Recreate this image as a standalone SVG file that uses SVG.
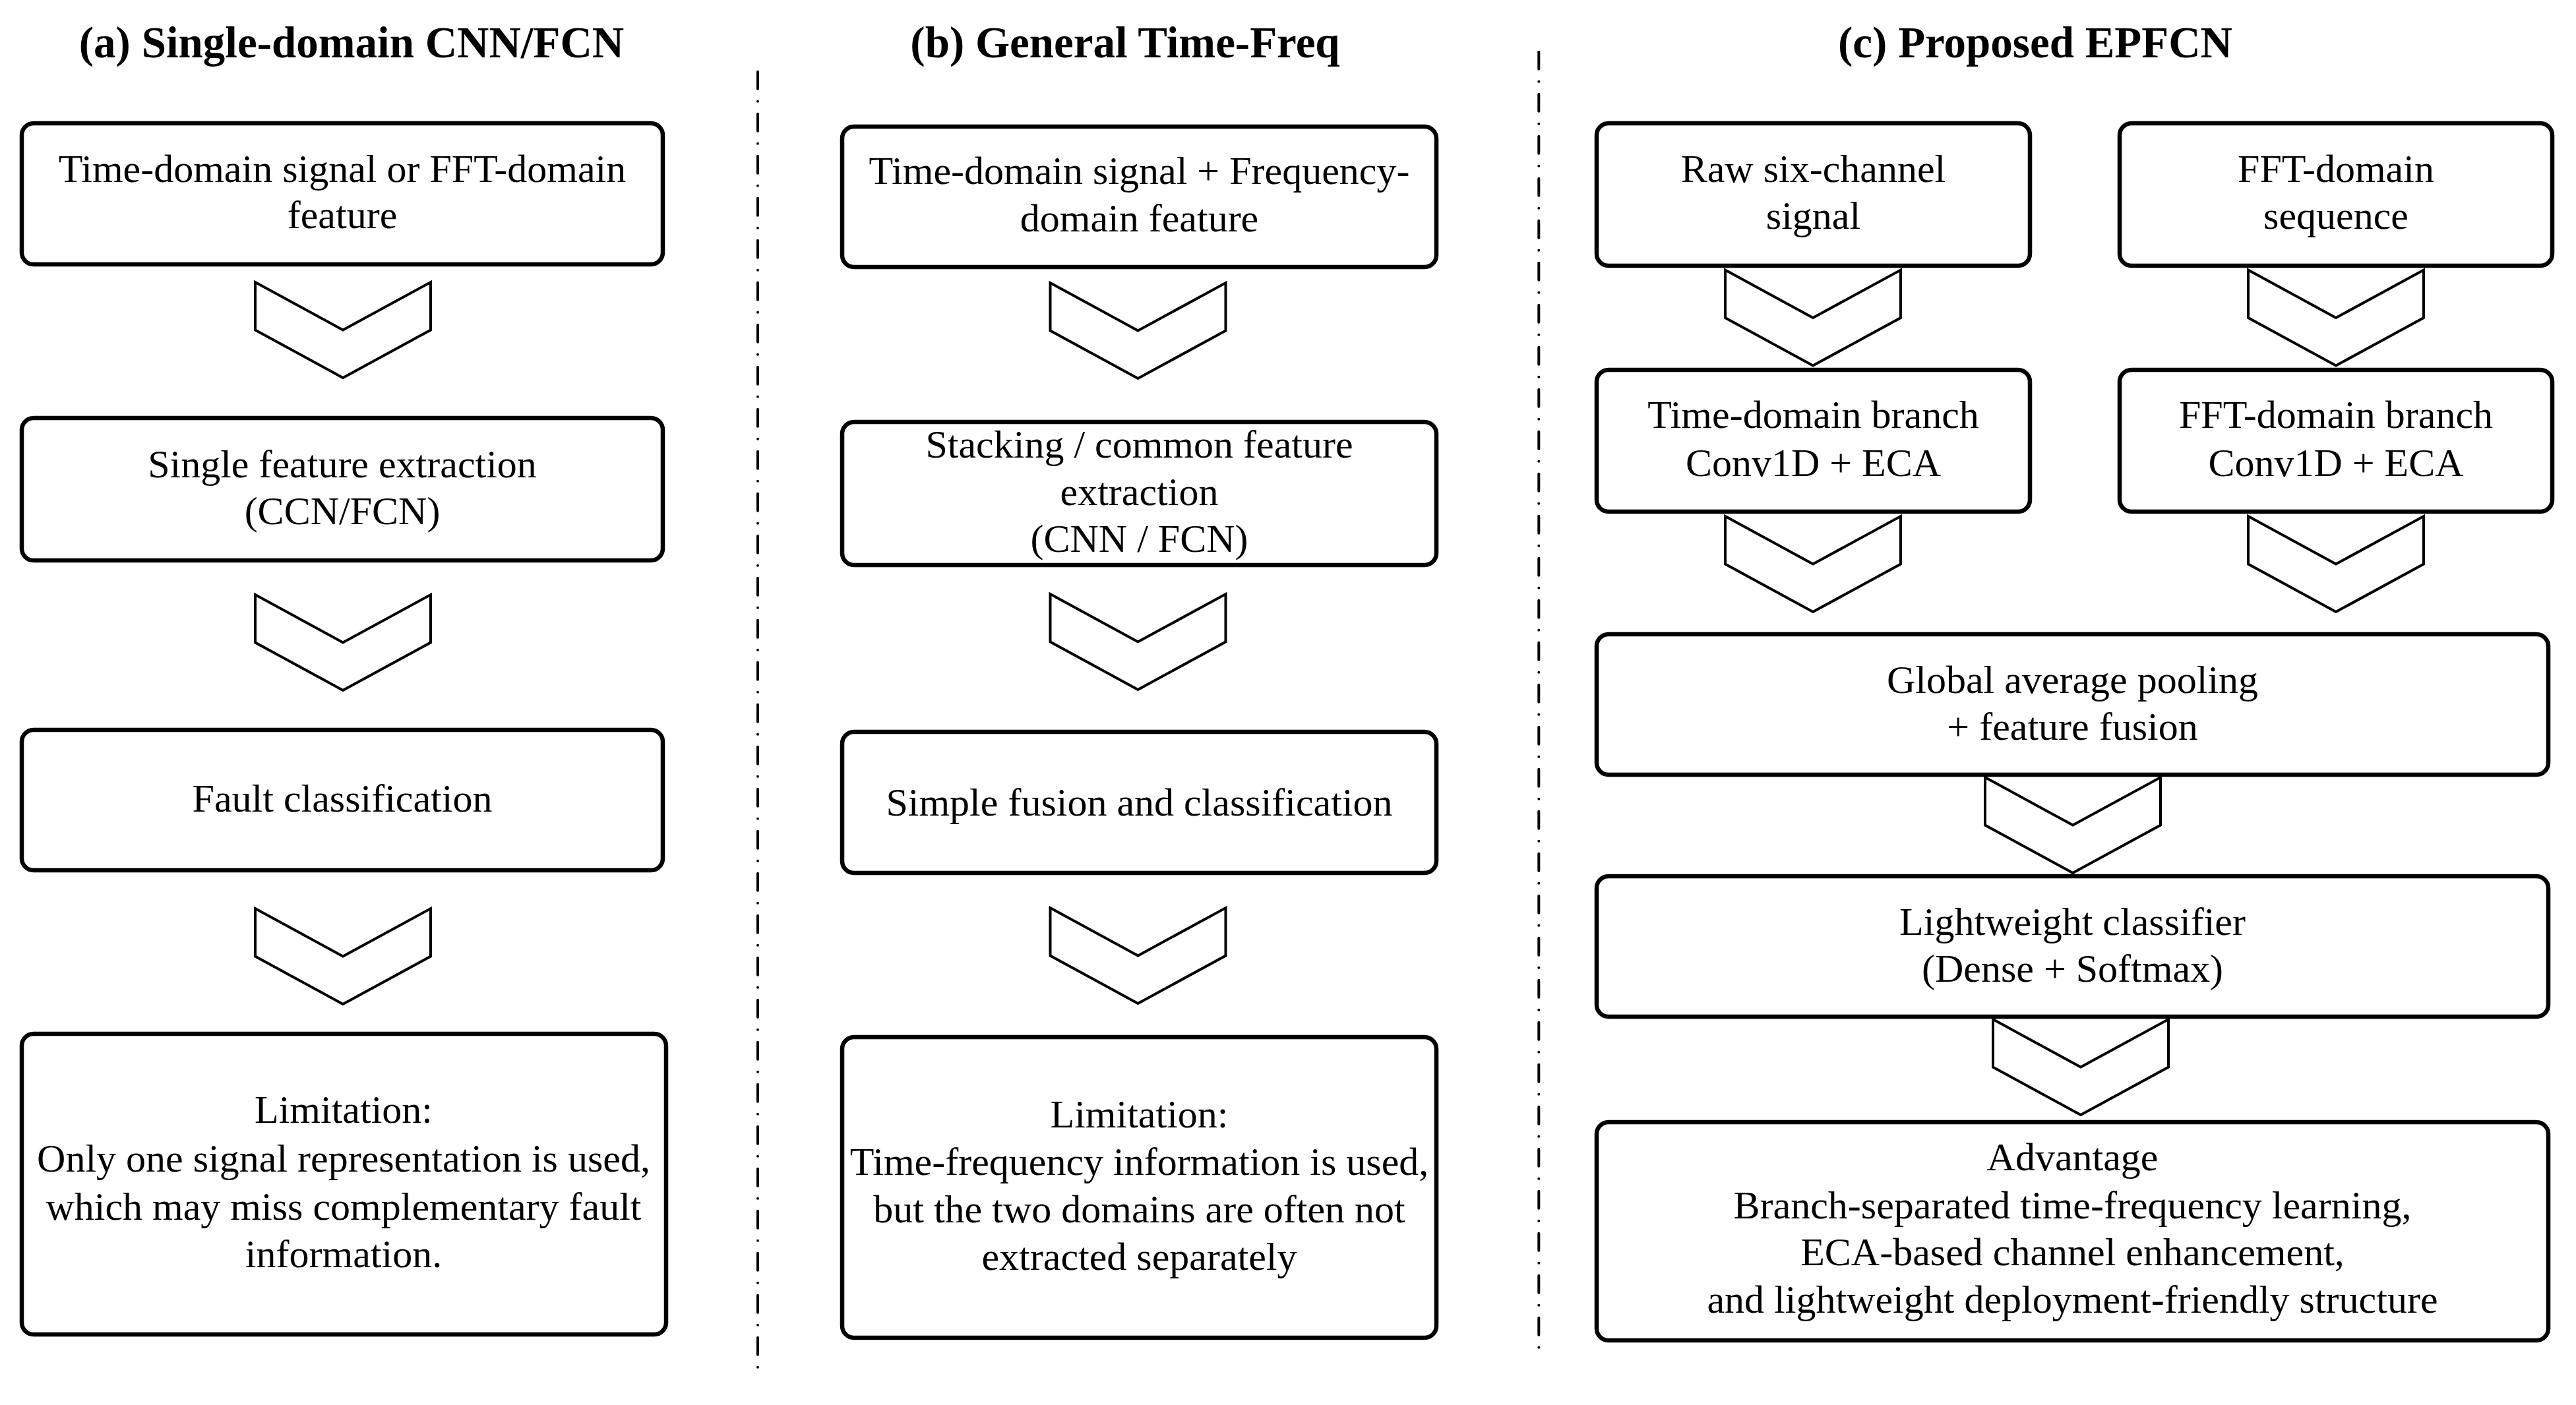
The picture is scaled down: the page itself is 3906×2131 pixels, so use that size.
<svg xmlns="http://www.w3.org/2000/svg" width="3906" height="2131" viewBox="0 0 3906 2131">
<style>
.box{fill:#fff;stroke:#000;stroke-width:6.5}
.chev{fill:#fff;stroke:#000;stroke-width:4;stroke-linejoin:miter}
.div{stroke:#000;stroke-width:4;stroke-linecap:round;stroke-dasharray:26 19 0 19;fill:none}
.t{font-family:"Liberation Serif","Times New Roman",serif;font-size:60px;text-anchor:middle;fill:#000}
.h{font-family:"Liberation Serif","Times New Roman",serif;font-size:67px;font-weight:bold;text-anchor:middle;fill:#000}
</style>
<rect width="3906" height="2131" fill="#fff"/>
<g id="titles">
<text class="h" x="533" y="87">(a) Single-domain CNN/FCN</text>
<text class="h" x="1706" y="87">(b) General Time-Freq</text>
<text class="h" x="3086" y="87">(c) Proposed EPFCN</text>
</g>
<g id="dividers">
<path class="div" d="M1149 108.7V2092.7"/>
<path class="div" d="M2333.3 78.7V2062.7"/>
</g>
<g id="connectors">
<polygon class="chev" points="387,428 520,500.5 653,428 653,500.5 520,573 387,500.5"/>
<polygon class="chev" points="387,902 520,974.5 653,902 653,974.5 520,1047 387,974.5"/>
<polygon class="chev" points="387,1378 520,1450.5 653,1378 653,1450.5 520,1523 387,1450.5"/>
<polygon class="chev" points="1592.5,429 1725.5,501.5 1858.5,429 1858.5,501.5 1725.5,574 1592.5,501.5"/>
<polygon class="chev" points="1592.5,901 1725.5,973.5 1858.5,901 1858.5,973.5 1725.5,1046 1592.5,973.5"/>
<polygon class="chev" points="1592.5,1377 1725.5,1449.5 1858.5,1377 1858.5,1449.5 1725.5,1522 1592.5,1449.5"/>
<polygon class="chev" points="2616,409.5 2749,482 2882,409.5 2882,482 2749,554.5 2616,482"/>
<polygon class="chev" points="3409,409.5 3542,482 3675,409.5 3675,482 3542,554.5 3409,482"/>
<polygon class="chev" points="2616,783 2749,855.5 2882,783 2882,855.5 2749,928 2616,855.5"/>
<polygon class="chev" points="3409,783 3542,855.5 3675,783 3675,855.5 3542,928 3409,855.5"/>
<polygon class="chev" points="3010,1179 3143,1251.5 3276,1179 3276,1251.5 3143,1324 3010,1251.5"/>
<polygon class="chev" points="3022,1546 3155,1618.5 3288,1546 3288,1618.5 3155,1691 3022,1618.5"/>
</g>
<g id="a1"><rect class="box" x="33" y="187" width="972" height="214" rx="18"/>
<text class="t" x="519" y="275.5">Time-domain signal or FFT-domain</text>
<text class="t" x="519" y="346">feature</text></g>
<g id="a2"><rect class="box" x="33" y="634" width="972" height="216" rx="18"/>
<text class="t" x="519" y="723.5">Single feature extraction</text>
<text class="t" x="519" y="794.5">(CCN/FCN)</text></g>
<g id="a3"><rect class="box" x="33" y="1107" width="972" height="213" rx="18"/>
<text class="t" x="519" y="1231">Fault classification</text></g>
<g id="a4"><rect class="box" x="33" y="1568" width="977" height="456" rx="18"/>
<text class="t" x="521" y="1703">Limitation:</text>
<text class="t" x="521" y="1777">Only one signal representation is used,</text>
<text class="t" x="521" y="1850">which may miss complementary fault</text>
<text class="t" x="521" y="1922">information.</text></g>
<g id="b1"><rect class="box" x="1277" y="192" width="901" height="213" rx="18"/>
<text class="t" x="1727.5" y="279">Time-domain signal + Frequency-</text>
<text class="t" x="1727.5" y="350.5">domain feature</text></g>
<g id="b2"><rect class="box" x="1277" y="640" width="901" height="217" rx="18"/>
<text class="t" x="1727.5" y="694">Stacking / common feature</text>
<text class="t" x="1727.5" y="765.5">extraction</text>
<text class="t" x="1727.5" y="837">(CNN / FCN)</text></g>
<g id="b3"><rect class="box" x="1277" y="1110" width="901" height="214" rx="18"/>
<text class="t" x="1727.5" y="1237">Simple fusion and classification</text></g>
<g id="b4"><rect class="box" x="1277" y="1573" width="901" height="456" rx="18"/>
<text class="t" x="1727.5" y="1710">Limitation:</text>
<text class="t" x="1727.5" y="1782">Time-frequency information is used,</text>
<text class="t" x="1727.5" y="1854">but the two domains are often not</text>
<text class="t" x="1727.5" y="1926">extracted separately</text></g>
<g id="c1L"><rect class="box" x="2421" y="187" width="657" height="216" rx="18"/>
<text class="t" x="2749.5" y="276">Raw six-channel</text>
<text class="t" x="2749.5" y="347">signal</text></g>
<g id="c1R"><rect class="box" x="3214" y="187" width="656" height="216" rx="18"/>
<text class="t" x="3542" y="276">FFT-domain</text>
<text class="t" x="3542" y="347">sequence</text></g>
<g id="c2L"><rect class="box" x="2421" y="561" width="657" height="215" rx="18"/>
<text class="t" x="2749.5" y="649">Time-domain branch</text>
<text class="t" x="2749.5" y="722">Conv1D + ECA</text></g>
<g id="c2R"><rect class="box" x="3214" y="561" width="656" height="215" rx="18"/>
<text class="t" x="3542" y="649">FFT-domain branch</text>
<text class="t" x="3542" y="722">Conv1D + ECA</text></g>
<g id="c3"><rect class="box" x="2421" y="962" width="1443" height="213" rx="18"/>
<text class="t" x="3142.5" y="1051">Global average pooling</text>
<text class="t" x="3142.5" y="1122">+ feature fusion</text></g>
<g id="c4"><rect class="box" x="2421" y="1329" width="1443" height="213" rx="18"/>
<text class="t" x="3142.5" y="1418">Lightweight classifier</text>
<text class="t" x="3142.5" y="1489">(Dense + Softmax)</text></g>
<g id="c5"><rect class="box" x="2421" y="1702" width="1443" height="331" rx="18"/>
<text class="t" x="3142.5" y="1775">Advantage</text>
<text class="t" x="3142.5" y="1847.5">Branch-separated time-frequency learning,</text>
<text class="t" x="3142.5" y="1919">ECA-based channel enhancement,</text>
<text class="t" x="3142.5" y="1991">and lightweight deployment-friendly structure</text></g>
</svg>
